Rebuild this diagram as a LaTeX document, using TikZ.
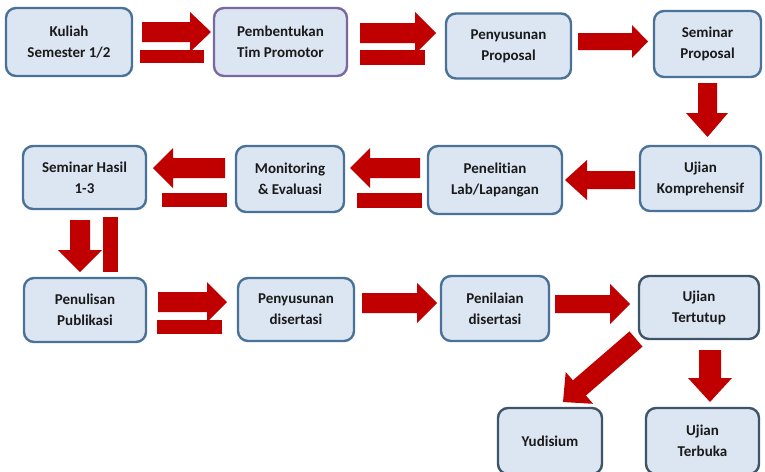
\documentclass[tikz,border=0pt]{standalone}
\usepackage{fontspec}
\setmainfont{Carlito}[Ligatures=NoCommon]
\definecolor{arr}{HTML}{C00000}
\definecolor{bfill}{HTML}{DCE6F2}
\definecolor{bblue}{HTML}{4A7198}
\definecolor{bpurple}{HTML}{7B68A0}
\definecolor{bdark}{HTML}{3E5468}
\definecolor{txt}{HTML}{1A1A1A}
\tikzset{
  box/.style={draw=bblue, fill=bfill, line width=2.4pt, rounded corners=10pt,
    align=center, inner sep=0pt, text=txt, font=\bfseries\fontsize{15}{21}\selectfont},
  blk/.style={fill=arr, draw=none}
}
\begin{document}
\begin{tikzpicture}[x=1pt,y=-1pt]
\useasboundingbox (0,0) rectangle (765,471);
\clip (0,0) rectangle (765,471);
% row 1
\node[box, minimum width=126pt, minimum height=68pt] (kul) at (69,42) {Kuliah\\Semester 1/2};
\node[box, draw=bpurple, minimum width=133pt, minimum height=68pt] (pem) at (280.5,42) {Pembentukan\\Tim Promotor};
\node[box, minimum width=125pt, minimum height=65pt] (pen) at (508.5,46) {Penyusunan\\Proposal};
\node[box, minimum width=107pt, minimum height=66pt] (sem) at (707.5,44) {Seminar\\Proposal};
% row 2
\node[box, minimum width=123pt, minimum height=63pt] (sh) at (84.5,177.5) {Seminar Hasil\\1-3};
\node[box, minimum width=108pt, minimum height=66pt] (mon) at (290,179) {Monitoring\\\& Evaluasi};
\node[box, minimum width=134pt, minimum height=68pt] (pl) at (495,180) {Penelitian\\Lab/Lapangan};
\node[box, minimum width=121pt, minimum height=65pt] (uk) at (700.5,178.5) {Ujian\\Komprehensif};
% row 3
\node[box, minimum width=122pt, minimum height=64pt] (pp) at (85,310) {Penulisan\\Publikasi};
\node[box, minimum width=116pt, minimum height=63pt] (pd) at (296,309.5) {Penyusunan\\disertasi};
\node[box, minimum width=108pt, minimum height=65pt] (pn) at (495,308.5) {Penilaian\\disertasi};
\node[box, draw=bdark, minimum width=120pt, minimum height=63pt] (ut) at (699,307.5) {Ujian\\Tertutup};
% row 4
\node[box, draw=bdark, minimum width=104pt, minimum height=66pt] (yd) at (550,441) {Yudisium};
\node[box, draw=bdark, minimum width=113pt, minimum height=66pt] (ub) at (702.5,441) {Ujian\\Terbuka};
% A1 kul -> pem
\fill[blk] (142,22) -- (190,22) -- (190,12) -- (211,32) -- (190,52) -- (190,42) -- (142,42) -- cycle;
\fill[blk] (140,50) rectangle (204,63);
% A2 pem -> pen
\fill[blk] (360,23) -- (415,23) -- (415,12) -- (436,33) -- (415,54) -- (415,43) -- (360,43) -- cycle;
\fill[blk] (360,50) rectangle (425,65);
% A3 pen -> sem
\fill[blk] (578,33) -- (632,33) -- (632,25) -- (648,41.5) -- (632,58) -- (632,50) -- (578,50) -- cycle;
% A4 sem -> uk
\fill[blk] (698,83) -- (717,83) -- (717,113) -- (728,113) -- (707.5,137) -- (686,113) -- (698,113) -- cycle;
% A5 uk -> pl
\fill[blk] (635,171) -- (587,171) -- (587,160) -- (565,180) -- (587,200) -- (587,189) -- (635,189) -- cycle;
% A6 pl -> mon
\fill[blk] (420,158) -- (370,158) -- (370,148) -- (350,168) -- (370,188) -- (370,178) -- (420,178) -- cycle;
\fill[blk] (357,193) rectangle (422,208);
% A7 mon -> sh
\fill[blk] (225,158) -- (173,158) -- (173,148) -- (153,168) -- (173,188) -- (173,178) -- (225,178) -- cycle;
\fill[blk] (162,193) rectangle (227,207);
% A8 sh -> pp
\fill[blk] (70,220) -- (90,220) -- (90,250) -- (102,250) -- (80,272) -- (58,250) -- (70,250) -- cycle;
\fill[blk] (103,217) rectangle (118,272);
% A9 pp -> pd
\fill[blk] (158,292) -- (207,292) -- (207,282) -- (227,302) -- (207,322) -- (207,312) -- (158,312) -- cycle;
\fill[blk] (157,320) rectangle (222,334);
% A10 pd -> pn
\fill[blk] (362,293) -- (417,293) -- (417,283) -- (437,303) -- (417,323) -- (417,313) -- (362,313) -- cycle;
% A11 pn -> ut
\fill[blk] (555,295) -- (610,295) -- (610,284) -- (630,304) -- (610,324) -- (610,313) -- (555,313) -- cycle;
% A12 ut -> yd
\fill[blk] (629.5,331.4) -- (572.9,380.3) -- (565.7,372.0) -- (563,402) -- (593.1,403.8) -- (585.9,395.5) -- (642.5,346.6) -- cycle;
% A13 ut -> ub
\fill[blk] (699,350) -- (721,350) -- (721,378) -- (732,378) -- (710,402) -- (688,378) -- (699,378) -- cycle;
\end{tikzpicture}
\end{document}
